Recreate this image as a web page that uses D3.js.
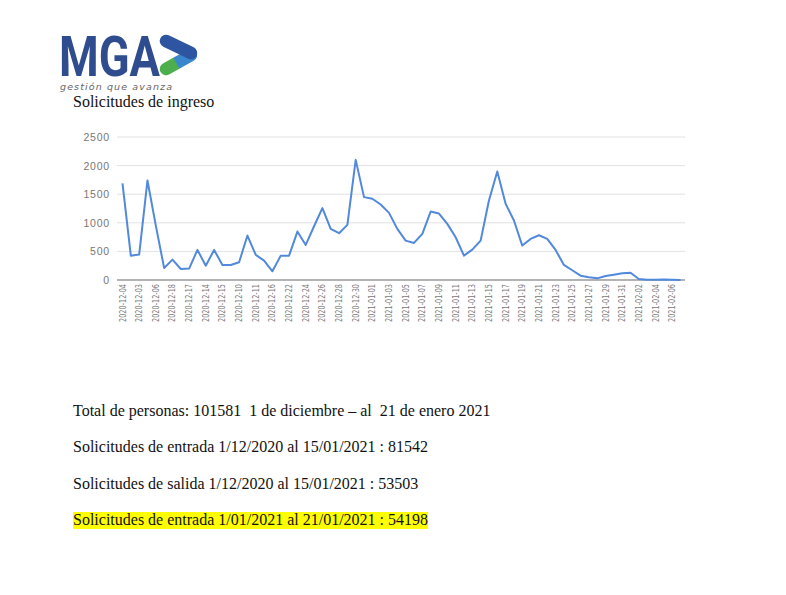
<!DOCTYPE html>
<html>
<head>
<meta charset="utf-8">
<script src="https://cdn.jsdelivr.net/npm/d3@7"></script>
<style>
  body { margin: 0; background: #fff; }
  svg { display: block; }
</style>
</head>
<body>
<svg id="svg"></svg>
<script>
// categories (every other one is printed on the axis)
var categories = [
  "2020-12-04","2020-12-05","2020-12-03","2020-12-02","2020-12-06","2020-12-07",
  "2020-12-18","2020-12-08","2020-12-17","2020-12-09","2020-12-14","2020-12-12",
  "2020-12-15","2020-12-13","2020-12-10","2020-12-19","2020-12-11","2020-12-20",
  "2020-12-16","2020-12-21","2020-12-22","2020-12-23","2020-12-24","2020-12-25",
  "2020-12-26","2020-12-27","2020-12-28","2020-12-29","2020-12-30","2020-12-31",
  "2021-01-01","2021-01-02","2021-01-03","2021-01-04","2021-01-05","2021-01-06",
  "2021-01-07","2021-01-08","2021-01-09","2021-01-10","2021-01-11","2021-01-12",
  "2021-01-13","2021-01-14","2021-01-15","2021-01-16","2021-01-17","2021-01-18",
  "2021-01-19","2021-01-20","2021-01-21","2021-01-22","2021-01-23","2021-01-24",
  "2021-01-25","2021-01-26","2021-01-27","2021-01-28","2021-01-29","2021-01-30",
  "2021-01-31","2021-02-01","2021-02-02","2021-02-03","2021-02-04","2021-02-05",
  "2021-02-06","2021-02-07"
];

var ingresos = [
  1690, 426, 444, 1740, 950, 210,
  356, 193, 200, 526, 250, 526,
  263, 263, 310, 777, 438, 339,
  152, 426, 426, 847, 613, 940,
  1256, 894, 818, 964, 2100, 1449,
  1420, 1320, 1174, 894, 689, 648,
  806, 1197, 1162, 981, 748, 426,
  531, 689, 1390, 1898, 1332, 1040,
  602, 718, 783, 718, 526, 263,
  170, 76, 47, 29, 70, 93,
  117, 128, 18, 6, 6, 8,
  6, 0
];

var yTicks = [0, 500, 1000, 1500, 2000, 2500];

var textLines = [
  "Total de personas: 101581  1 de diciembre \u2013 al  21 de enero 2021",
  "Solicitudes de entrada 1/12/2020 al 15/01/2021 : 81542",
  "Solicitudes de salida 1/12/2020 al 15/01/2021 : 53503",
  "Solicitudes de entrada 1/01/2021 al 21/01/2021 : 54198"
];

//////////////////////////////////////////////////////////////////////////////

var width = 786, height = 595;
var svg = d3.select("#svg").attr("width", width).attr("height", height);

// logo
var defs = svg.append("defs");
var grad = defs.append("linearGradient")
    .attr("id", "armGrad")
    .attr("gradientUnits", "userSpaceOnUse")
    .attr("x1", 191).attr("y1", 55).attr("x2", 166).attr("y2", 69);
grad.append("stop").attr("offset", "0%").attr("stop-color", "#3a86cf");
grad.append("stop").attr("offset", "55%").attr("stop-color", "#3a86cf");
grad.append("stop").attr("offset", "62%").attr("stop-color", "#4cae4c");
grad.append("stop").attr("offset", "100%").attr("stop-color", "#4cae4c");

var logo = svg.append("g");
logo.append("text")
    .attr("x", 59).attr("y", 76)
    .attr("textLength", 101).attr("lengthAdjust", "spacingAndGlyphs")
    .style("font-family", "Roboto, 'Open Sans', sans-serif")
    .style("font-weight", "bold").style("font-size", "56px")
    .attr("fill", "#2f4d8e")
    .text("MGA");
logo.append("line")
    .attr("x1", 166).attr("y1", 69).attr("x2", 191).attr("y2", 55)
    .attr("stroke", "url(#armGrad)").attr("stroke-width", 12.5)
    .attr("stroke-linecap", "round");
logo.append("line")
    .attr("x1", 166).attr("y1", 41).attr("x2", 191).attr("y2", 53)
    .attr("stroke", "#2d55a0").attr("stroke-width", 12.5)
    .attr("stroke-linecap", "round");
logo.append("text")
    .attr("x", 60).attr("y", 89.5)
    .attr("textLength", 112).attr("lengthAdjust", "spacing")
    .style("font-family", "'DejaVu Sans', sans-serif")
    .style("font-style", "italic").style("font-size", "9.5px")
    .attr("fill", "#666")
    .text("gestión que avanza");

svg.append("text")
    .attr("x", 73).attr("y", 107)
    .style("font-family", "'Liberation Serif', serif")
    .style("font-size", "16px")
    .attr("fill", "#111")
    .text("Solicitudes de ingreso");

// chart
var plot = {x1: 117, x2: 685, y1: 137, y2: 280};

var x = d3.scalePoint()
    .domain(categories)
    .range([122.5, 680.5]);

var y = d3.scaleLinear()
    .domain([0, 2500])
    .range([plot.y2, plot.y1]);

svg.append("g").selectAll("line")
    .data(yTicks.slice(1))
    .enter().append("line")
    .attr("x1", plot.x1).attr("x2", plot.x2)
    .attr("y1", function(d) { return y(d); })
    .attr("y2", function(d) { return y(d); })
    .attr("stroke", "#e2e2e2").attr("stroke-width", 1);

svg.append("line")
    .attr("x1", plot.x1).attr("x2", plot.x2)
    .attr("y1", y(0)).attr("y2", y(0))
    .attr("stroke", "#9a9a9a").attr("stroke-width", 1.3);

svg.append("g").selectAll("text")
    .data(yTicks)
    .enter().append("text")
    .attr("x", 110)
    .attr("y", function(d) { return y(d) + 4; })
    .attr("text-anchor", "end")
    .style("font-family", "'Liberation Sans', Arial, sans-serif")
    .style("font-size", "10.5px").style("letter-spacing", "0.8px")
    .attr("fill", "#777")
    .text(function(d) { return d; });

svg.append("g").selectAll("text")
    .data(categories.filter(function(d, i) { return i % 2 == 0; }))
    .enter().append("text")
    .attr("transform", function(d) { return "translate(" + (x(d) + 3) + "," + 284 + ") rotate(-90)"; })
    .attr("text-anchor", "end")
    .attr("textLength", 38).attr("lengthAdjust", "spacingAndGlyphs")
    .style("font-family", "'Liberation Sans Narrow', 'DejaVu Sans Condensed', sans-serif")
    .style("font-size", "8.5px")
    .attr("fill", "#777")
    .text(function(d) { return d; });

var line = d3.line()
    .x(function(d, i) { return x(categories[i]); })
    .y(function(d) { return y(d); });

svg.append("path")
    .datum(ingresos)
    .attr("d", line)
    .attr("fill", "none")
    .attr("stroke", "#5189dc")
    .attr("stroke-width", 2)
    .attr("stroke-linejoin", "round");

// text block underneath
var baselines = [416, 452, 489, 525];

svg.append("rect")
    .attr("x", 73).attr("y", 512)
    .attr("width", 355).attr("height", 17)
    .attr("fill", "#ffff00");

svg.append("g").selectAll("text")
    .data(textLines)
    .enter().append("text")
    .attr("x", 73)
    .attr("y", function(d, i) { return baselines[i]; })
    .style("font-family", "'Liberation Serif', serif")
    .style("font-size", "16px")
    .style("white-space", "pre")
    .attr("xml:space", "preserve")
    .attr("fill", "#111")
    .text(function(d) { return d; });
</script>
</body>
</html>
